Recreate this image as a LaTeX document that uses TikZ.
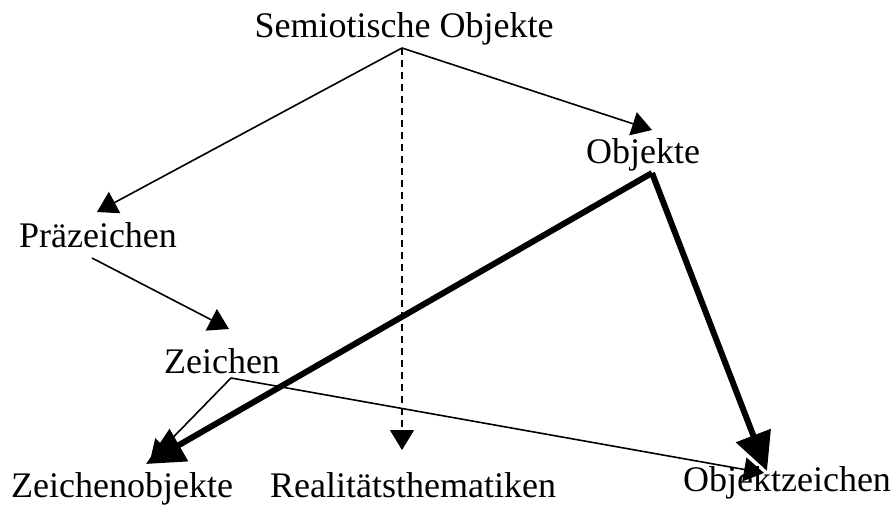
\documentclass[tikz,border=0pt]{standalone}
\usepackage{fontspec}
\setmainfont{Liberation Serif}
\usetikzlibrary{arrows.meta}
\begin{document}
\begin{tikzpicture}[x=1pt,y=-1pt,
  lbl/.style={inner sep=0pt,anchor=base,font=\fontsize{36}{40}\selectfont},
  thin/.style={line width=1.6pt,-{Triangle[length=20pt,width=24pt]}},
  thick/.style={line width=6pt,line join=miter,-{Triangle[length=38pt,width=36pt]}}]
\useasboundingbox (0,0) rectangle (895,506);
\node[lbl] (so) at (404,37) {Semiotische Objekte};
\node[lbl] (ob) at (643,163) {Objekte};
\node[lbl] (pz) at (98,247) {Präzeichen};
\node[lbl] (ze) at (222,373) {Zeichen};
\node[lbl] (zo) at (122,497) {Zeichenobjekte};
\node[lbl] (rt) at (413,497) {Realitätsthematiken};
\node[lbl] (oz) at (787,491) {Objektzeichen};
\coordinate (sop) at (402,48);
\coordinate (obt) at (652,130);
\coordinate (pzt) at (97,212);
\coordinate (pzs) at (92,258);
\coordinate (zet) at (229,329);
\coordinate (zep) at (231,378);
\coordinate (zot) at (150,461);
\coordinate (zott) at (146,464);
\coordinate (ozt) at (764,473);
\coordinate (oztt) at (767,471);
\coordinate (rtt) at (402,450);
\coordinate (obp) at (652,173);
\draw[thin] (sop) -- (obt);
\draw[thin] (sop) -- (pzt);
\draw[thin,dashed,dash pattern=on 7pt off 5pt] (sop) -- (rtt);
\draw[thin] (pzs) -- (zet);
\draw[thin] (zep) -- (zot);
\draw[thin] (zep) -- (ozt);
\draw[thick] (obp) -- (zott);
\draw[thick] (obp) -- (oztt);
\end{tikzpicture}
\end{document}
